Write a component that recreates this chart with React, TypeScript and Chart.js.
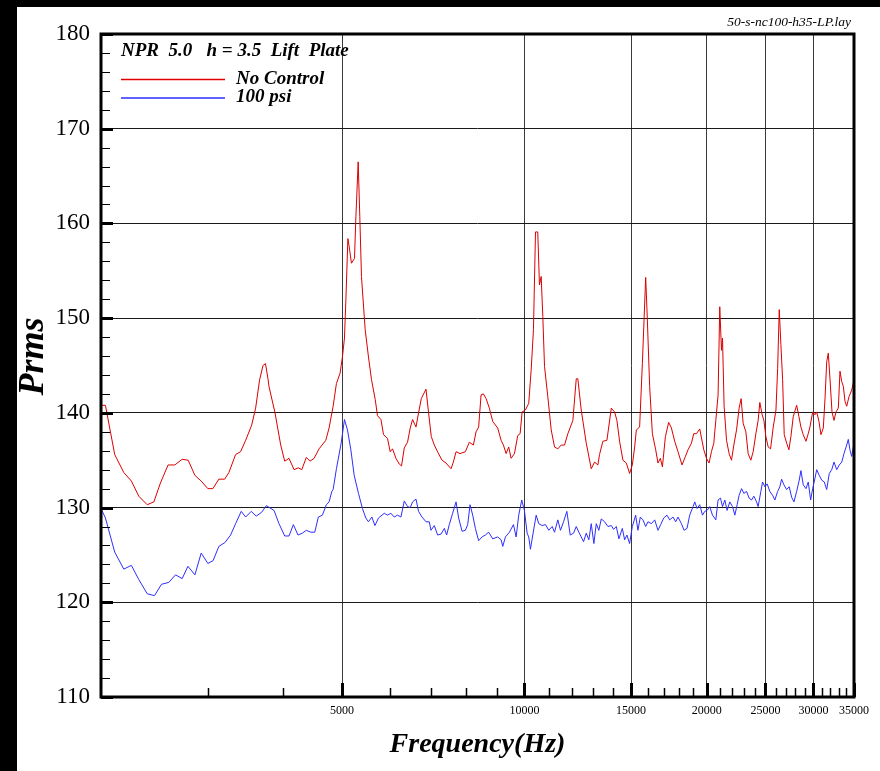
import React, { useEffect, useRef } from 'react';
import { Chart, registerables } from 'chart.js';

Chart.register(...registerables);

// ---------------- data ----------------
const seriesLabels = ['No Control', '100 psi'];
const plotTitle = 'NPR  5.0   h = 3.5  Lift  Plate';
const fileName = '50-s-nc100-h35-LP.lay';
const xAxisTitle = 'Frequency(Hz)';
const yAxisTitle = '  Prms';

const xMajorTicks = [5000, 10000, 15000, 20000, 25000, 30000, 35000];
const xMinorTicks = [3000, 4000, 6000, 7000, 8000, 9000, 11000, 12000, 13000, 14000, 16000, 17000, 18000, 19000,
  21000, 22000, 23000, 24000, 26000, 27000, 28000, 29000, 31000, 32000, 33000, 34000];
const yTickLabels = [110, 120, 130, 140, 150, 160, 170, 180];

const noControlFreq = [2000, 2034, 2107, 2181, 2245, 2309, 2384, 2445, 2507, 2581, 2648, 2723, 2786, 2858, 2927, 3002, 3060, 3130, 3200, 3252,
  3336, 3400, 3466, 3546, 3600, 3655, 3702, 3737, 3773, 3787, 3875, 3960, 4021, 4087, 4166, 4234, 4290, 4365, 4427, 4496,
  4581, 4700, 4759, 4833, 4894, 4963, 5007, 5046, 5073, 5112, 5136, 5182, 5242, 5270, 5316, 5349, 5383, 5459, 5528, 5592,
  5672, 5721, 5796, 5854, 5943, 6004, 6058, 6136, 6213, 6268, 6334, 6413, 6479, 6537, 6622, 6687, 6757, 6879, 6947, 7019,
  7100, 7200, 7311, 7423, 7566, 7633, 7712, 7829, 7990, 8111, 8237, 8321, 8403, 8481, 8556, 8644, 8752, 8864, 9034, 9152,
  9233, 9328, 9420, 9507, 9628, 9750, 9838, 9913, 10038, 10165, 10259, 10350, 10430, 10520, 10588, 10658, 10724, 10794, 10930, 11072,
  11213, 11353, 11501, 11648, 11795, 12022, 12178, 12252, 12410, 12650, 12892, 13057, 13221, 13305, 13476, 13683, 13913, 14090, 14213, 14358,
  14542, 14731, 14915, 15071, 15205, 15303, 15494, 15657, 15855, 15957, 16096, 16265, 16471, 16615, 16766, 16896, 17090, 17304, 17484, 17706,
  17929, 18204, 18442, 18624, 18868, 19035, 19232, 19472, 19774, 19976, 20173, 20360, 20541, 20698, 20879, 21012, 21151, 21232, 21363, 21559,
  21771, 21972, 22167, 22396, 22616, 22790, 22966, 23204, 23406, 23647, 23857, 24103, 24313, 24468, 24687, 24848, 25038, 25257, 25488, 25749,
  26016, 26184, 26342, 26509, 26683, 26847, 27093, 27329, 27537, 27782, 28144, 28389, 28606, 28860, 29159, 29413, 29601, 29912, 30176, 30372,
  30636, 30870, 31145, 31348, 31551, 31742, 31945, 32193, 32441, 32689, 32975, 33186, 33404, 33609, 33826, 34044, 34338, 34692, 35000];
const noControlPrms = [140.8, 140.8, 135.6, 133.7, 132.8, 131.2, 130.3, 130.6, 132.6, 134.5, 134.5, 135.1, 135.0, 133.4, 132.8, 132.0, 132.0, 133.0, 133.0, 133.7,
  135.6, 135.9, 137.1, 138.7, 140.5, 143.5, 145.0, 145.2, 143.6, 142.8, 140.0, 136.6, 134.9, 135.2, 134.0, 134.2, 134.0, 135.3, 134.9, 135.2,
  136.2, 137.1, 138.4, 140.7, 143.1, 144.2, 145.9, 147.9, 151.9, 158.4, 157.6, 155.8, 156.3, 160.7, 166.5, 160.7, 154.4, 148.8, 145.9, 143.5,
  141.4, 139.7, 139.3, 137.7, 137.3, 135.9, 136.2, 135.2, 134.6, 134.4, 136.3, 136.9, 138.4, 139.3, 138.5, 140.0, 141.5, 142.5, 140.0, 137.5,
  136.6, 135.8, 135.0, 134.7, 134.1, 134.8, 135.9, 135.7, 135.9, 136.9, 136.6, 138.0, 138.5, 141.9, 142.0, 141.5, 140.5, 139.1, 138.4, 137.1,
  136.6, 135.7, 136.4, 135.2, 135.7, 137.6, 137.8, 140.1, 140.3, 141.0, 144.5, 148.8, 159.1, 159.1, 153.5, 154.4, 150.2, 144.9, 141.7, 138.2,
  136.4, 136.2, 136.6, 136.6, 137.8, 139.2, 143.6, 143.6, 140.3, 136.8, 134.1, 134.8, 134.5, 135.6, 137.0, 137.1, 140.5, 140.1, 139.2, 137.0,
  135.0, 134.7, 133.6, 134.5, 136.4, 138.2, 138.5, 145.2, 154.3, 149.8, 142.8, 137.8, 136.1, 134.7, 135.2, 134.3, 137.5, 139.0, 138.4, 137.0,
  135.9, 134.5, 135.4, 136.1, 136.8, 137.8, 137.8, 138.3, 136.1, 135.2, 134.7, 135.9, 136.8, 139.2, 141.9, 151.2, 146.6, 147.9, 140.7, 137.1,
  135.7, 135.0, 136.6, 138.2, 140.5, 141.5, 138.9, 138.0, 135.7, 135.0, 135.9, 137.8, 139.2, 141.1, 139.8, 139.2, 137.5, 136.4, 136.2, 138.5,
  140.3, 144.7, 150.9, 147.2, 143.5, 137.7, 136.8, 136.1, 137.5, 139.6, 140.8, 139.6, 138.5, 137.7, 137.0, 137.8, 138.5, 140.1, 139.8, 140.1,
  139.1, 137.7, 138.4, 141.5, 145.4, 146.3, 143.6, 140.1, 139.2, 140.1, 140.5, 144.4, 143.3, 142.8, 141.2, 140.7, 141.7, 142.4, 143.5];

const psi100Freq = [2000, 2034, 2107, 2181, 2245, 2309, 2384, 2451, 2517, 2588, 2655, 2723, 2783, 2858, 2927, 3002, 3063, 3130, 3203, 3273,
  3336, 3408, 3466, 3540, 3608, 3683, 3749, 3861, 3934, 4021, 4087, 4155, 4229, 4299, 4365, 4439, 4507, 4569, 4640, 4711,
  4759, 4809, 4833, 4894, 4983, 5046, 5104, 5170, 5236, 5322, 5403, 5473, 5527, 5600, 5665, 5743, 5870, 5943, 6020, 6097,
  6174, 6254, 6334, 6413, 6479, 6537, 6622, 6687, 6775, 6879, 6965, 7011, 7100, 7190, 7283, 7376, 7441, 7516, 7612, 7712,
  7788, 7890, 7990, 8060, 8133, 8215, 8300, 8403, 8513, 8621, 8729, 8864, 9034, 9152, 9210, 9304, 9445, 9592, 9690, 9786,
  9898, 10000, 10104, 10165, 10232, 10323, 10457, 10560, 10699, 10834, 10970, 11114, 11213, 11353, 11470, 11604, 11750, 11902, 12054, 12178,
  12297, 12410, 12521, 12650, 12775, 12892, 13021, 13141, 13270, 13393, 13564, 13735, 13913, 14036, 14181, 14321, 14508, 14636, 14764, 14915,
  15071, 15262, 15395, 15536, 15693, 15855, 15994, 16202, 16409, 16615, 16786, 16980, 17194, 17369, 17591, 17773, 17928, 18162, 18344, 18554,
  18744, 18984, 19108, 19275, 19472, 19676, 19849, 20023, 20226, 20438, 20698, 20879, 21069, 21232, 21420, 21608, 21828, 22057, 22252, 22447,
  22616, 22825, 23027, 23265, 23494, 23711, 23921, 24167, 24313, 24563, 24725, 24943, 25162, 25419, 25685, 25912, 26179, 26406, 26580, 26816,
  27093, 27359, 27612, 27857, 28144, 28421, 28606, 28860, 29159, 29413, 29682, 29912, 30176, 30372, 30671, 30954, 31265, 31551, 31861, 32156,
  32441, 32776, 33099, 33404, 33698, 34044, 34249, 34466, 34692, 34905, 35000];
const psi100Prms = [129.9, 128.9, 125.3, 123.5, 123.9, 122.4, 120.9, 120.7, 121.9, 122.1, 122.9, 122.5, 123.8, 122.9, 125.2, 124.1, 124.4, 125.9, 126.3, 127.1,
  128.3, 129.6, 129.0, 129.6, 129.1, 129.5, 130.2, 129.7, 128.3, 127.0, 127.0, 128.2, 127.1, 127.3, 127.6, 127.4, 127.4, 129.0, 129.2, 130.3,
  130.6, 131.7, 131.9, 134.1, 136.8, 139.3, 138.2, 136.1, 133.4, 131.5, 129.9, 128.9, 128.5, 129.0, 128.1, 128.9, 129.4, 129.2, 129.4, 129.0,
  129.2, 129.0, 130.7, 130.1, 130.0, 130.6, 130.9, 129.6, 129.0, 128.5, 128.5, 127.6, 128.1, 127.1, 127.2, 127.8, 127.1, 128.2, 129.4, 130.6,
  128.9, 127.5, 127.6, 128.2, 130.3, 129.2, 127.8, 126.5, 126.9, 127.1, 127.4, 126.7, 126.9, 126.6, 125.9, 126.9, 127.4, 128.2, 126.9, 129.2,
  130.8, 129.7, 127.3, 126.9, 125.6, 127.1, 129.2, 128.3, 128.1, 128.2, 127.6, 128.0, 127.4, 128.7, 127.6, 128.5, 129.6, 127.1, 127.3, 128.0,
  127.4, 126.9, 126.4, 127.3, 126.6, 128.3, 126.2, 128.3, 127.6, 128.8, 128.5, 128.0, 128.1, 127.7, 128.0, 126.7, 127.8, 126.6, 127.1, 126.2,
  128.0, 129.2, 127.6, 129.0, 128.7, 128.0, 128.5, 128.3, 128.7, 127.6, 128.2, 128.9, 129.2, 128.7, 129.0, 128.5, 129.0, 128.3, 127.6, 127.8,
  129.2, 130.1, 130.6, 129.9, 130.3, 129.2, 129.6, 129.7, 130.1, 129.2, 128.7, 130.8, 131.0, 130.1, 130.8, 129.7, 130.6, 130.1, 129.2, 130.3,
  131.3, 132.0, 131.5, 131.7, 131.0, 130.8, 131.2, 130.6, 130.1, 131.7, 132.7, 132.2, 132.5, 131.7, 131.3, 130.8, 131.7, 132.2, 133.0, 132.4,
  131.9, 132.2, 131.1, 130.6, 131.7, 132.9, 133.9, 132.4, 132.0, 132.7, 130.8, 132.0, 133.1, 134.0, 133.4, 132.9, 132.7, 131.9, 133.6, 134.0,
  134.8, 134.0, 134.5, 134.8, 135.7, 136.6, 137.2, 136.1, 135.4, 136.4, 136.2];

// ---------------- styling ----------------
const SERIF = '"Liberation Serif", "Times New Roman", Times, serif';
const RED = '#dd0000';
const BLUE = '#2e2eff';
const xAllTicks = [...xMinorTicks, ...xMajorTicks].sort((a, b) => a - b);

const decorPlugin = {
  id: 'decor',
  beforeDraw(chart: any) {
    const { ctx, width, height } = chart;
    ctx.save();
    ctx.fillStyle = '#000';
    ctx.fillRect(0, 0, width, height);
    ctx.fillStyle = '#fff';
    ctx.fillRect(17, 7, width - 17, height - 7);
    ctx.restore();
  },
  afterDatasetsDraw(chart: any) {
    const { ctx, chartArea: a, scales } = chart;
    const xs = scales.x;
    const ys = scales.y;
    ctx.save();
    ctx.strokeStyle = '#000';
    ys.ticks.forEach((t: any) => {
      const py = Math.round(ys.getPixelForValue(t.value)) + 0.5;
      const major = yTickLabels.includes(t.value);
      ctx.lineWidth = major ? 3 : 1;
      ctx.beginPath();
      ctx.moveTo(a.left, py);
      ctx.lineTo(a.left + (major ? 12 : 9), py);
      ctx.stroke();
    });
    xs.ticks.forEach((t: any) => {
      const px = Math.round(xs.getPixelForValue(t.value)) + 0.5;
      const major = xMajorTicks.includes(t.value);
      ctx.lineWidth = major ? 3 : 1.5;
      ctx.beginPath();
      ctx.moveTo(px, a.bottom);
      ctx.lineTo(px, a.bottom - (major ? 14 : 9));
      ctx.stroke();
    });
    ctx.lineWidth = 3;
    ctx.strokeRect(a.left, a.top, a.right - a.left, a.bottom - a.top);

    // title + legend inside the plot
    ctx.fillStyle = '#000';
    ctx.textBaseline = 'alphabetic';
    ctx.textAlign = 'left';
    ctx.font = `italic bold 19px ${SERIF}`;
    ctx.fillText(plotTitle, a.left + 20, a.top + 22);
    chart.data.datasets.forEach((ds: any, i: number) => {
      const ly = a.top + 45.5 + i * 18.5;
      ctx.strokeStyle = ds.borderColor;
      ctx.lineWidth = 1.5;
      ctx.beginPath();
      ctx.moveTo(a.left + 20, ly);
      ctx.lineTo(a.left + 124, ly);
      ctx.stroke();
      ctx.fillStyle = '#000';
      ctx.fillText(ds.label, a.left + 135, ly + 4);
    });

    // file name label
    ctx.font = `italic 13.5px ${SERIF}`;
    ctx.textAlign = 'right';
    ctx.fillText(fileName, 851, 26);
    ctx.restore();
  },
};

export default function App() {
  const ref = useRef<HTMLCanvasElement>(null);
  useEffect(() => {
    if (!ref.current) return;
    const chart = new Chart(ref.current, {
      type: 'line',
      data: {
        datasets: [
          {
            label: seriesLabels[0],
            data: noControlFreq.map((f, i) => ({ x: f, y: noControlPrms[i] })),
            borderColor: RED,
            borderWidth: 1,
            pointRadius: 0,
            tension: 0,
            fill: false,
          },
          {
            label: seriesLabels[1],
            data: psi100Freq.map((f, i) => ({ x: f, y: psi100Prms[i] })),
            borderColor: BLUE,
            borderWidth: 1,
            pointRadius: 0,
            tension: 0,
            fill: false,
          },
        ],
      },
      options: {
        animation: false,
        responsive: false,
        events: [],
        layout: { padding: { left: 0, top: 34, right: 26, bottom: 0 } },
        plugins: { legend: { display: false }, tooltip: { enabled: false } },
        scales: {
          x: {
            type: 'logarithmic',
            min: 2000,
            max: 35000,
            afterBuildTicks: (s: any) => {
              s.ticks = xAllTicks.map((v) => ({ value: v }));
            },
            afterFit: (s: any) => {
              s.height = 74;
            },
            ticks: {
              autoSkip: false,
              maxRotation: 0,
              minRotation: 0,
              padding: 7,
              color: '#000',
              font: { family: SERIF, size: 12 },
              callback: (v: any) => (xMajorTicks.includes(Number(v)) ? String(v) : ''),
            },
            grid: {
              drawTicks: false,
              lineWidth: 1,
              color: (c: any) =>
                c.tick && xMajorTicks.includes(c.tick.value) && c.tick.value !== 35000 ? '#3a3a3a' : 'rgba(0,0,0,0)',
            },
            border: { display: false },
            title: {
              display: true,
              text: xAxisTitle,
              color: '#000',
              font: { family: SERIF, size: 28, style: 'italic', weight: 'bold' },
              padding: { top: 0, bottom: 9 },
            },
          },
          y: {
            type: 'linear',
            min: 110,
            max: 180,
            afterFit: (s: any) => {
              s.width = 101;
            },
            ticks: {
              stepSize: 2,
              autoSkip: false,
              padding: 11,
              color: '#000',
              font: { family: SERIF, size: 23 },
              callback: (v: any) => (yTickLabels.includes(Number(v)) ? String(v) : ''),
            },
            grid: {
              drawTicks: false,
              lineWidth: 1,
              color: (c: any) =>
                c.tick && yTickLabels.includes(c.tick.value) && c.tick.value !== 110 && c.tick.value !== 180
                  ? '#1a1a1a'
                  : 'rgba(0,0,0,0)',
            },
            border: { display: false },
            title: {
              display: true,
              text: yAxisTitle,
              color: '#000',
              font: { family: SERIF, size: 36, style: 'italic', weight: 'bold' },
              padding: { top: 12, bottom: 0 },
            },
          },
        },
      },
      plugins: [decorPlugin],
    } as any);
    return () => chart.destroy();
  }, []);

  return (
    <canvas
      ref={ref}
      width={880}
      height={771}
      style={{ position: 'absolute', left: 0, top: 0, width: 880, height: 771 }}
    />
  );
}
